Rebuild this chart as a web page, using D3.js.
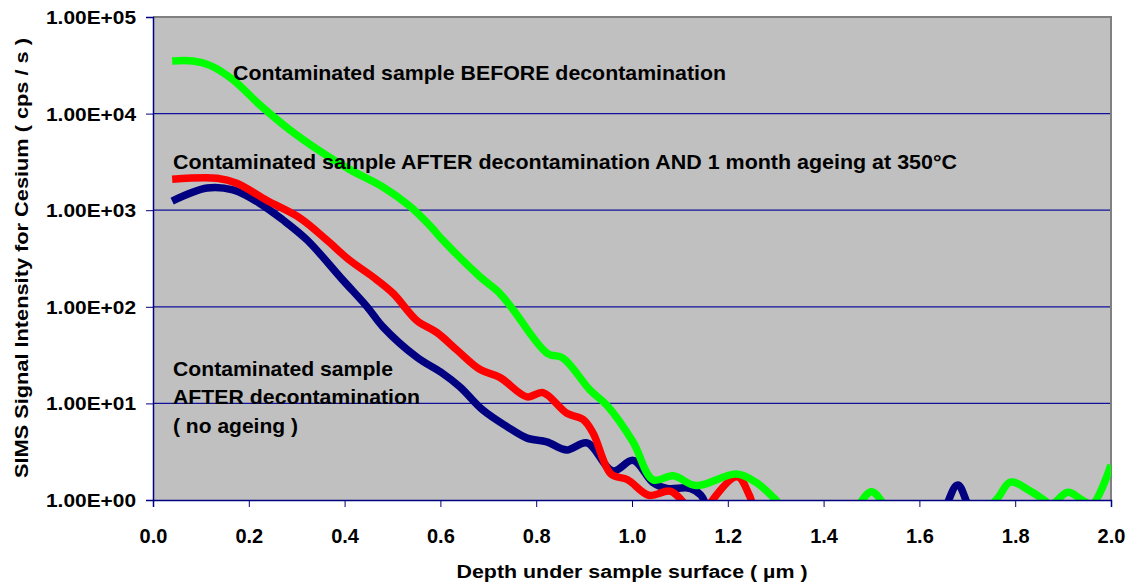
<!DOCTYPE html>
<html>
<head>
<meta charset="utf-8">
<script src="https://cdn.jsdelivr.net/npm/d3@7"></script>
<style>
body { margin: 0; background: #fff; }
text { font-family: "Liberation Sans", Arial, sans-serif; font-weight: bold; fill: #000; }
</style>
</head>
<body>
<div id="chart"></div>
<script>
// depth (µm) and SIMS Cs intensity (cps/s)
var beforeDepth = [0.04, 0.083, 0.119, 0.167, 0.223, 0.286, 0.355, 0.411, 0.48, 0.536, 0.58, 0.605, 0.683, 0.724, 0.752, 0.823, 0.856, 0.912, 0.948, 1.002, 1.044, 1.086, 1.134, 1.218, 1.26, 1.30, 1.34, 1.44, 1.47, 1.50, 1.53, 1.56, 1.70, 1.76, 1.79, 1.83, 1.86, 1.875, 1.91, 1.94, 1.96, 2.0]
var beforeVal = [35100, 35100, 31600, 22400, 12300, 6760, 3890, 2630, 1740, 1100, 676, 490, 204, 138, 93, 33, 29.5, 13.8, 9.5, 4.0, 1.62, 1.78, 1.41, 1.86, 1.51, 1.0, 0.6, 0.6, 0.85, 1.22, 0.85, 0.6, 0.6, 1.0, 1.53, 1.25, 1.0, 0.9, 1.2, 1.0, 0.9, 2.3]

var agedDepth = [0.04, 0.134, 0.175, 0.238, 0.307, 0.363, 0.411, 0.459, 0.501, 0.551, 0.593, 0.635, 0.683, 0.724, 0.781, 0.814, 0.864, 0.898, 0.919, 0.956, 0.991, 1.035, 1.081, 1.12, 1.145, 1.165, 1.22, 1.245, 1.27, 1.35]
var agedVal = [2090, 2140, 1900, 1260, 830, 490, 302, 204, 138, 72, 54, 35.5, 22.4, 18.6, 11.7, 12.9, 7.9, 6.8, 4.9, 1.86, 1.62, 1.12, 1.23, 0.8, 0.6, 0.95, 1.74, 1.12, 0.5, 0.3]

var noAgeDepth = [0.04, 0.113, 0.167, 0.223, 0.271, 0.322, 0.396, 0.447, 0.48, 0.551, 0.605, 0.641, 0.689, 0.739, 0.781, 0.822, 0.864, 0.906, 0.96, 1.002, 1.044, 1.073, 1.121, 1.144, 1.16, 1.25, 1.6, 1.65, 1.68, 1.71, 1.8]
var noAgeVal = [1245, 1700, 1620, 1175, 794, 490, 190, 100, 62, 30, 20.4, 14.8, 8.5, 5.75, 4.37, 4.0, 3.3, 3.9, 2.0, 2.57, 1.51, 1.32, 1.32, 1.12, 0.8, 0.3, 0.3, 0.75, 1.43, 0.75, 0.3]

var yTicks = [1, 10, 100, 1000, 10000, 100000]
var xTicks = [0, 0.2, 0.4, 0.6, 0.8, 1.0, 1.2, 1.4, 1.6, 1.8, 2.0]

var labels = [
    {t: "Contaminated sample BEFORE decontamination", x: 233, y: 80, w: 493},
    {t: "Contaminated sample AFTER decontamination AND 1 month ageing at 350°C", x: 173, y: 169, w: 784},
    {t: "Contaminated sample", x: 173, y: 376, w: 220},
    {t: "AFTER decontamination", x: 173, y: 404, w: 247},
    {t: "( no ageing )", x: 173, y: 433, w: 125}
]

var width = 1130, height = 588
var pLeft = 153, pRight = 1111, pTop = 17, pBottom = 500

var svg = d3.select("#chart").append("svg")
    .attr("width", width)
    .attr("height", height)

var x = d3.scaleLinear().domain([0, 2]).range([pLeft, pRight])
var y = d3.scaleLog().domain([1, 100000]).range([pBottom, pTop])

svg.append("rect")
    .attr("x", pLeft).attr("y", pTop)
    .attr("width", pRight - pLeft).attr("height", pBottom - pTop)
    .attr("fill", "#c0c0c0")

// grid
svg.selectAll(".grid").data(yTicks.slice(1, 5))
    .enter().append("line")
    .attr("class", "grid")
    .attr("x1", pLeft).attr("x2", pRight)
    .attr("y1", function(d){ return y(d) })
    .attr("y2", function(d){ return y(d) })
    .attr("stroke", "#10109a")
    .attr("stroke-width", 1.2)

// top + right frame
svg.append("path")
    .attr("d", "M" + pLeft + "," + pTop + "H" + pRight + "V" + pBottom)
    .attr("fill", "none")
    .attr("stroke", "#808080")
    .attr("stroke-width", 2)

svg.append("clipPath").attr("id", "plotclip")
    .append("rect")
    .attr("x", pLeft).attr("y", pTop)
    .attr("width", pRight - pLeft).attr("height", pBottom - pTop)

var line = d3.line()
    .x(function(d){ return x(d[0]) })
    .y(function(d){ return y(d[1]) })
    .curve(d3.curveCatmullRom.alpha(0.5))

var series = [
    {d: d3.zip(noAgeDepth, noAgeVal), c: "#000080"},
    {d: d3.zip(agedDepth, agedVal), c: "#ff0000"},
    {d: d3.zip(beforeDepth, beforeVal), c: "#00ff00"}
]

svg.append("g").attr("clip-path", "url(#plotclip)")
    .selectAll("path").data(series)
    .enter().append("path")
    .attr("d", function(s){ return line(s.d) })
    .attr("fill", "none")
    .attr("stroke", function(s){ return s.c })
    .attr("stroke-width", 7.5)
    .attr("stroke-linejoin", "round")

// axes
var yAxis = d3.axisLeft(y).tickValues(yTicks).tickSize(7).tickPadding(10)
    .tickFormat(function(d){ return "1.00E+0" + Math.round(Math.log10(d)) })
var gy = svg.append("g").attr("transform", "translate(" + pLeft + ",0)").call(yAxis)
gy.attr("font-family", null).attr("font-size", null)
gy.select(".domain").attr("stroke", "#000080").attr("stroke-width", 1.5)
gy.selectAll(".tick line").attr("stroke", "#000080")
gy.selectAll(".tick text")
    .style("font-size", "18px")
    .attr("dy", "0.36em")
    .attr("textLength", 90)
    .attr("lengthAdjust", "spacingAndGlyphs")

var xAxis = d3.axisBottom(x).tickValues(xTicks).tickSize(7)
    .tickFormat(d3.format(".1f"))
var gx = svg.append("g").attr("transform", "translate(0," + pBottom + ")").call(xAxis)
gx.attr("font-family", null).attr("font-size", null)
gx.select(".domain").attr("stroke", "#000080").attr("stroke-width", 1.5)
gx.selectAll(".tick line").attr("stroke", "#000080")
gx.selectAll(".tick text")
    .style("font-size", "20px")
    .attr("y", 43).attr("dy", 0)

// axis titles
svg.append("text")
    .attr("transform", "translate(28,258) rotate(-90)")
    .attr("text-anchor", "middle")
    .style("font-size", "18px")
    .attr("textLength", 440)
    .attr("lengthAdjust", "spacingAndGlyphs")
    .text("SIMS Signal Intensity for Cesium ( cps / s )")

svg.append("text")
    .attr("x", 632).attr("y", 578)
    .attr("text-anchor", "middle")
    .style("font-size", "18px")
    .attr("textLength", 351)
    .attr("lengthAdjust", "spacingAndGlyphs")
    .text("Depth under sample surface ( µm )")

// curve labels
svg.selectAll(".lab").data(labels)
    .enter().append("text")
    .attr("class", "lab")
    .attr("x", function(d){ return d.x })
    .attr("y", function(d){ return d.y })
    .style("font-size", "21px")
    .attr("textLength", function(d){ return d.w })
    .attr("lengthAdjust", "spacingAndGlyphs")
    .text(function(d){ return d.t })
</script>
</body>
</html>
